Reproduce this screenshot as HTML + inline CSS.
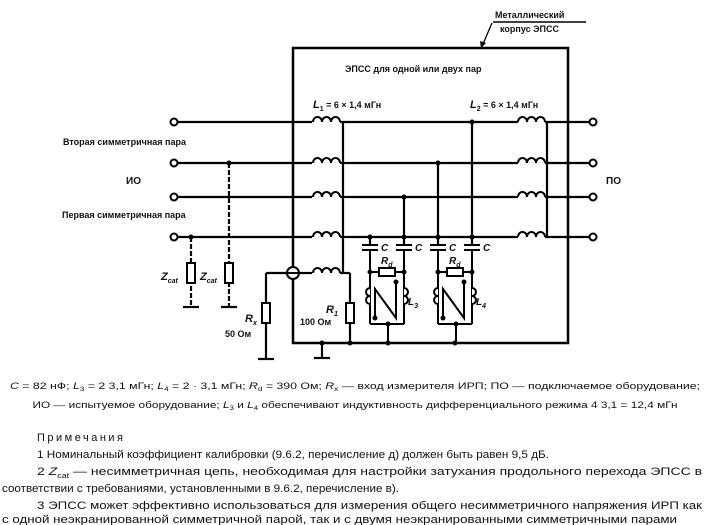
<!DOCTYPE html>
<html><head><meta charset="utf-8"><style>
body{margin:0;background:#fff;width:710px;height:525px;overflow:hidden}
svg{display:block}
text{font-family:"Liberation Sans",sans-serif;fill:#111}
</style></head><body>
<svg width="710" height="525" viewBox="0 0 710 525" xmlns="http://www.w3.org/2000/svg">
<defs>
<g id="ind"><path d="M0,0 a4.5,5 0 0 1 9,0 a4.5,5 0 0 1 9,0 a4.5,5 0 0 1 9,0" fill="none" stroke="#000" stroke-width="2"/></g>
</defs>
<g stroke="#000" stroke-width="2.2" fill="none">
<rect x="293" y="48" width="275" height="295" stroke-width="2.5"/>
<line x1="178" y1="122" x2="312" y2="122"/><line x1="340" y1="122" x2="518" y2="122"/><line x1="545" y1="122" x2="589" y2="122"/>
<line x1="178" y1="163" x2="312" y2="163"/><line x1="340" y1="163" x2="518" y2="163"/><line x1="545" y1="163" x2="589" y2="163"/>
<line x1="178" y1="197" x2="312" y2="197"/><line x1="340" y1="197" x2="518" y2="197"/><line x1="545" y1="197" x2="589" y2="197"/>
<line x1="178" y1="237" x2="312" y2="237"/><line x1="340" y1="237" x2="518" y2="237"/><line x1="545" y1="237" x2="589" y2="237"/>
<line x1="343" y1="122" x2="343" y2="273"/>
<line x1="547" y1="122" x2="547" y2="237"/>
<line x1="299" y1="273" x2="312" y2="273"/><line x1="340" y1="273" x2="350" y2="273"/>
<line x1="350" y1="273" x2="350" y2="343"/>
<line x1="287" y1="273" x2="266" y2="273"/><line x1="266" y1="273" x2="266" y2="359"/>
<line x1="258" y1="359" x2="274" y2="359"/>
<line x1="322" y1="343" x2="322" y2="358"/><line x1="314" y1="358" x2="330" y2="358"/>
<line x1="191" y1="237" x2="191" y2="307" stroke-dasharray="5,2"/><line x1="183" y1="307" x2="199" y2="307"/>
<line x1="229" y1="163" x2="229" y2="307" stroke-dasharray="5,2"/><line x1="221" y1="307" x2="237" y2="307"/>
<line x1="472" y1="122" x2="472" y2="246"/>
<line x1="438" y1="163" x2="438" y2="246"/>
<line x1="404" y1="197" x2="404" y2="246"/>
<line x1="370" y1="237" x2="370" y2="246"/>
</g>
<g stroke="#000" stroke-width="2" fill="#fff">
<circle cx="174" cy="122" r="3.5"/><circle cx="174" cy="163" r="3.5"/><circle cx="174" cy="197" r="3.5"/><circle cx="174" cy="237" r="3.5"/>
<circle cx="593" cy="122" r="3.5"/><circle cx="593" cy="163" r="3.5"/><circle cx="593" cy="197" r="3.5"/><circle cx="593" cy="237" r="3.5"/>
<rect x="187" y="263" width="8" height="20"/><rect x="225" y="263" width="8" height="20"/>
<rect x="262" y="303" width="8" height="20"/><rect x="346" y="303" width="8" height="20"/>
<circle cx="293" cy="273" r="6"/>
</g>
<line x1="287" y1="273" x2="299" y2="273" stroke="#000" stroke-width="2"/>
<line x1="293" y1="267" x2="293" y2="268" stroke="#000" stroke-width="2.5"/>
<g>
<use href="#ind" x="313" y="122"/><use href="#ind" x="313" y="163"/><use href="#ind" x="313" y="197"/><use href="#ind" x="313" y="237"/><use href="#ind" x="313" y="273"/>
<use href="#ind" x="518" y="122"/><use href="#ind" x="518" y="163"/><use href="#ind" x="518" y="197"/><use href="#ind" x="518" y="237"/>
</g>
<g fill="#000">
<circle cx="229" cy="163" r="2.5"/><circle cx="191" cy="237" r="2.5"/>
<circle cx="472" cy="122" r="2.5"/><circle cx="438" cy="163" r="2.5"/><circle cx="404" cy="197" r="2.5"/>
<circle cx="370" cy="237" r="2.5"/><circle cx="404" cy="237" r="2.5"/><circle cx="438" cy="237" r="2.5"/><circle cx="472" cy="237" r="2.5"/>
<circle cx="350" cy="343" r="2.5"/><circle cx="388" cy="343" r="2.5"/><circle cx="455" cy="343" r="2.5"/><circle cx="322" cy="343" r="2.5"/>
</g>
<g id="blk" stroke="#000" stroke-width="2" fill="none">
<line x1="362" y1="245" x2="378" y2="245"/><line x1="362" y1="250" x2="378" y2="250"/>
<line x1="396" y1="245" x2="412" y2="245"/><line x1="396" y1="250" x2="412" y2="250"/>
<line x1="370" y1="250" x2="370" y2="324"/><line x1="404" y1="250" x2="404" y2="324"/>
<line x1="370" y1="324" x2="404" y2="324"/><line x1="388" y1="324" x2="388" y2="343"/>
<line x1="370" y1="272" x2="379" y2="272"/><line x1="395" y1="272" x2="404" y2="272"/>
<rect x="379" y="268" width="16" height="8" fill="#fff"/>
<path d="M370,288 a4,4 0 0 0 0,8 a4,4 0 0 0 0,8" fill="#fff"/>
<path d="M404,288 a4,4 0 0 1 0,8 a4,4 0 0 1 0,8" fill="#fff"/>
<polyline points="375,318 375,289 396,318 396,282"/>
<circle cx="375" cy="318" r="1.5" fill="#000"/><circle cx="396" cy="282" r="1.5" fill="#000"/>
<circle cx="370" cy="272" r="1.5" fill="#000"/><circle cx="404" cy="272" r="1.5" fill="#000"/>
<circle cx="388" cy="324" r="1.5" fill="#000"/>
</g>
<use href="#blk" x="68" y="0"/>
<line x1="493" y1="22" x2="586" y2="22" stroke="#000" stroke-width="1.5"/>
<line x1="492" y1="23" x2="483" y2="44" stroke="#000" stroke-width="1.3"/>
<polygon points="481,48 480,41 486,43" fill="#000"/>
<g font-size="9" font-weight="bold">
<text x="495" y="18">Металлический</text>
<text x="500" y="32">корпус ЭПСС</text>
<text x="345" y="72">ЭПСС для одной или двух пар</text>
<text x="313" y="108"><tspan font-style="italic" font-size="11">L</tspan><tspan font-size="7" dy="3">1</tspan><tspan dy="-3"> = 6 × 1,4 мГн</tspan></text>
<text x="470" y="108"><tspan font-style="italic" font-size="11">L</tspan><tspan font-size="7" dy="3">2</tspan><tspan dy="-3"> = 6 × 1,4 мГн</tspan></text>
<text x="63" y="145">Вторая симметричная пара</text>
<text x="62" y="218">Первая симметричная пара</text>
<text x="126" y="184" font-size="10">ИО</text>
<text x="606" y="184" font-size="10">ПО</text>
<text x="161" y="280" font-style="italic" font-size="11">Z<tspan font-size="7" dy="3">cat</tspan></text>
<text x="200" y="280" font-style="italic" font-size="11">Z<tspan font-size="7" dy="3">cat</tspan></text>
<text x="245" y="322" font-style="italic" font-size="11">R<tspan font-size="7" dy="3">x</tspan></text>
<text x="225" y="337">50 Ом</text>
<text x="326" y="313" font-style="italic" font-size="11">R<tspan font-size="7" dy="3">1</tspan></text>
<text x="300" y="325">100 Ом</text>
<text x="381" y="251" font-style="italic" font-size="10">C</text><text x="415" y="251" font-style="italic" font-size="10">C</text>
<text x="449" y="251" font-style="italic" font-size="10">C</text><text x="483" y="251" font-style="italic" font-size="10">C</text>
<text x="381" y="264" font-style="italic" font-size="10">R<tspan font-size="7" dy="3">d</tspan></text>
<text x="449" y="264" font-style="italic" font-size="10">R<tspan font-size="7" dy="3">d</tspan></text>
<text x="408" y="305" font-style="italic" font-size="10">L<tspan font-size="7" dy="3">3</tspan></text>
<text x="476" y="305" font-style="italic" font-size="10">L<tspan font-size="7" dy="3">4</tspan></text>
</g>
<g font-size="9">
<text x="355" y="389" text-anchor="middle" textLength="690" lengthAdjust="spacingAndGlyphs"><tspan font-style="italic">C</tspan> = 82 нФ; <tspan font-style="italic">L</tspan><tspan font-size="6" dy="2">3</tspan><tspan dy="-2"> = 2   3,1 мГн; </tspan><tspan font-style="italic">L</tspan><tspan font-size="6" dy="2">4</tspan><tspan dy="-2"> = 2 · 3,1 мГн; </tspan><tspan font-style="italic">R</tspan><tspan font-size="6" dy="2">d</tspan><tspan dy="-2"> = 390 Ом; </tspan><tspan font-style="italic">R</tspan><tspan font-size="6" dy="2">x</tspan><tspan dy="-2"> — вход измерителя ИРП; ПО — подключаемое оборудование;</tspan></text>
<text x="355" y="408" text-anchor="middle" textLength="645" lengthAdjust="spacingAndGlyphs">ИО — испытуемое оборудование; <tspan font-style="italic">L</tspan><tspan font-size="6" dy="2">3</tspan><tspan dy="-2"> и </tspan><tspan font-style="italic">L</tspan><tspan font-size="6" dy="2">4</tspan><tspan dy="-2"> обеспечивают индуктивность дифференциального режима 4   3,1 = 12,4 мГн</tspan></text>
</g>
<g font-size="11">
<text x="37" y="441" letter-spacing="2.5">Примечания</text>
<text x="37" y="458" textLength="512" lengthAdjust="spacingAndGlyphs">1 Номинальный коэффициент калибровки  (9.6.2, перечисление д) должен быть равен 9,5 дБ.</text>
<text x="37" y="475" textLength="665" lengthAdjust="spacingAndGlyphs">2 <tspan font-style="italic">Z</tspan><tspan font-size="7" dy="3">cat</tspan><tspan dy="-3">  — несимметричная цепь, необходимая для настройки затухания продольного перехода ЭПСС в</tspan></text>
<text x="2" y="492" textLength="397" lengthAdjust="spacingAndGlyphs">соответствии с требованиями, установленными  в 9.6.2, перечисление  в).</text>
<text x="37" y="509" textLength="665" lengthAdjust="spacingAndGlyphs">3 ЭПСС может эффективно использоваться для измерения общего несимметричного напряжения ИРП как</text>
<text x="2" y="523" textLength="675" lengthAdjust="spacingAndGlyphs">с одной неэкранированной симметричной парой, так и с двумя неэкранированными симметричными парами</text>
</g>
</svg>
</body></html>
